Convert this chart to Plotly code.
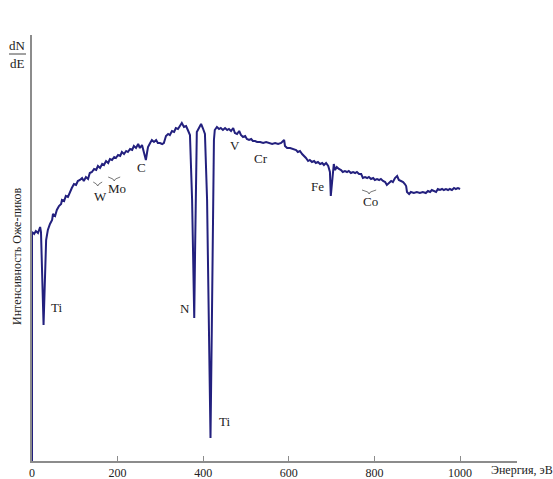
import plotly.graph_objects as go

# Auger spectrum dN/dE, energy in eV, intensity in arbitrary units
energy = [0, 0, 5, 9, 14, 19, 21, 27, 33, 37, 42, 47, 49, 54, 58, 63, 68, 70, 75, 79, 84, 89, 93, 98,
          103, 107, 112, 117, 121, 126, 131, 135, 140, 145, 150, 154, 159, 164, 168, 173, 178, 182,
          187, 192, 196, 201, 206, 210, 215, 220, 224, 229, 234, 238, 243, 248, 252, 257, 262, 266,
          269, 271, 276, 280, 285, 290, 294, 299, 304, 308, 313, 318, 322, 327, 332, 336, 341, 346,
          350, 355, 360, 364, 369, 374, 379, 381, 383, 385, 390, 395, 399, 404, 409, 414, 417, 420,
          423, 425, 427, 432, 437, 441, 446, 451, 456, 460, 465, 470, 474, 479, 484, 488, 493, 498,
          502, 507, 512, 516, 521, 526, 533, 540, 547, 554, 561, 568, 575, 582, 589, 591, 596, 603,
          610, 617, 621, 626, 631, 636, 640, 645, 649, 654, 659, 663, 668, 673, 678, 682, 687, 692,
          696, 698, 701, 703, 705, 708, 712, 717, 722, 726, 731, 736, 740, 745, 750, 755, 759, 764,
          769, 773, 778, 783, 787, 792, 797, 801, 806, 811, 815, 820, 825, 829, 834, 839, 843, 848,
          853, 857, 862, 867, 871, 874, 876, 881, 885, 892, 899, 906, 913, 920, 925, 930, 934, 939,
          944, 948, 953, 958, 962, 967, 972, 976, 981, 986, 990, 995, 1000]
intensity = [0, 229, 227, 230, 228, 234, 229, 136, 221, 231, 237, 241, 247, 245, 251, 255, 257, 261,
             260, 265, 264, 270, 273, 277, 276, 280, 281, 283, 280, 284, 282, 288, 289, 292, 291, 295,
             293, 297, 296, 300, 298, 302, 301, 304, 303, 306, 305, 309, 307, 310, 309, 312, 311, 315,
             313, 317, 313, 316, 309, 301, 309, 314, 318, 321, 319, 321, 318, 318, 317, 318, 325, 327,
             326, 330, 329, 333, 332, 336, 338, 334, 335, 331, 326, 261, 143, 211, 301, 329, 333, 337,
             333, 327, 261, 131, 23, 131, 261, 321, 331, 334, 332, 333, 331, 333, 331, 332, 330, 333,
             328, 327, 330, 326, 324, 325, 322, 321, 322, 320, 320, 319, 319, 318, 319, 318, 317, 318,
             317, 318, 321, 315, 313, 313, 312, 311, 309, 310, 307, 305, 303, 300, 301, 299, 300, 298,
             299, 297, 298, 296, 298, 295, 289, 265, 281, 293, 297, 291, 294, 292, 291, 289, 290, 289,
             290, 288, 289, 288, 289, 287, 287, 283, 284, 283, 284, 282, 283, 281, 282, 281, 282, 280,
             279, 276, 278, 280, 279, 283, 285, 281, 280, 279, 277, 275, 269, 267, 269, 268, 269, 268,
             269, 268, 270, 269, 271, 270, 269, 272, 271, 272, 271, 272, 271, 272, 271, 273, 272, 273,
             272, 273, 272]

# Element labels near their Auger features
peak_names = ["Ti", "N", "Ti", "C", "W", "Mo", "V", "Cr", "Fe", "Co"]
peak_label_e = [58, 357, 449, 255, 161, 199, 474, 535, 668, 790]
peak_label_i = [154, 153, 40, 294, 265, 273, 316, 303, 275, 260]

# Small brackets above grouped lines (start eV, end eV, level)
brackets = [(143, 164, 278), (178, 206, 283), (771, 804, 270)]

tick_vals = [0, 200, 400, 600, 800, 1000]

W, H = 553, 479
L, R, T, B = 32, 36, 35, 18
XMAX, YMAX = 1133, 426
SERIF = "Liberation Serif, Times New Roman, serif"
LINE = "#23207e"
AXIS = "#8c8c8c"


def px(x):
    return (x - L) / (W - L - R)


def py(y):
    return (H - B - y) / (H - T - B)


fig = go.Figure()
fig.add_trace(go.Scatter(x=energy, y=intensity, mode="lines",
                         line=dict(color=LINE, width=2), hoverinfo="skip"))

for x0, x1, lv in brackets:
    xm = (x0 + x1) / 2
    fig.add_trace(go.Scatter(
        x=[x0, xm - 3, xm, xm + 3, x1],
        y=[lv + 1, lv - 1, lv - 3, lv - 1, lv + 1],
        mode="lines", line=dict(color="#555", width=0.8), hoverinfo="skip"))

for name, e, i in zip(peak_names, peak_label_e, peak_label_i):
    fig.add_annotation(x=e, y=i, text=name, showarrow=False,
                       font=dict(family=SERIF, size=13, color="#222"))


def note(x, y, text, size=12, angle=0, xanchor="center"):
    fig.add_annotation(xref="paper", yref="paper", x=px(x), y=py(y), text=text,
                       showarrow=False, xanchor=xanchor, yanchor="middle",
                       textangle=angle, font=dict(family=SERIF, size=size, color="#222"))


note(489, 470, "Энергия, эВ", xanchor="left")
note(17, 257, "Интенсивность Оже-пиков", angle=-90)
note(17, 45, "dN", size=13)
note(17, 64, "dE", size=13)
fig.add_shape(type="line", xref="paper", yref="paper", x0=px(9), x1=px(26),
              y0=py(54), y1=py(54), line=dict(color="#444", width=1))

fig.update_layout(
    width=W, height=H, margin=dict(l=L, r=R, t=T, b=B, autoexpand=False),
    paper_bgcolor="white", plot_bgcolor="white", showlegend=False,
    xaxis=dict(range=[0, XMAX], tickvals=tick_vals, ticks="inside", ticklen=5,
               tickcolor=AXIS, showline=True, linecolor=AXIS, linewidth=1.5,
               showgrid=False, zeroline=False, automargin=False,
               tickfont=dict(family=SERIF, size=12, color="#222")),
    yaxis=dict(range=[0, YMAX], showticklabels=False, ticks="", showline=True,
               linecolor=AXIS, linewidth=1.5, showgrid=False, zeroline=False,
               automargin=False),
)

fig.write_html("out.html")
